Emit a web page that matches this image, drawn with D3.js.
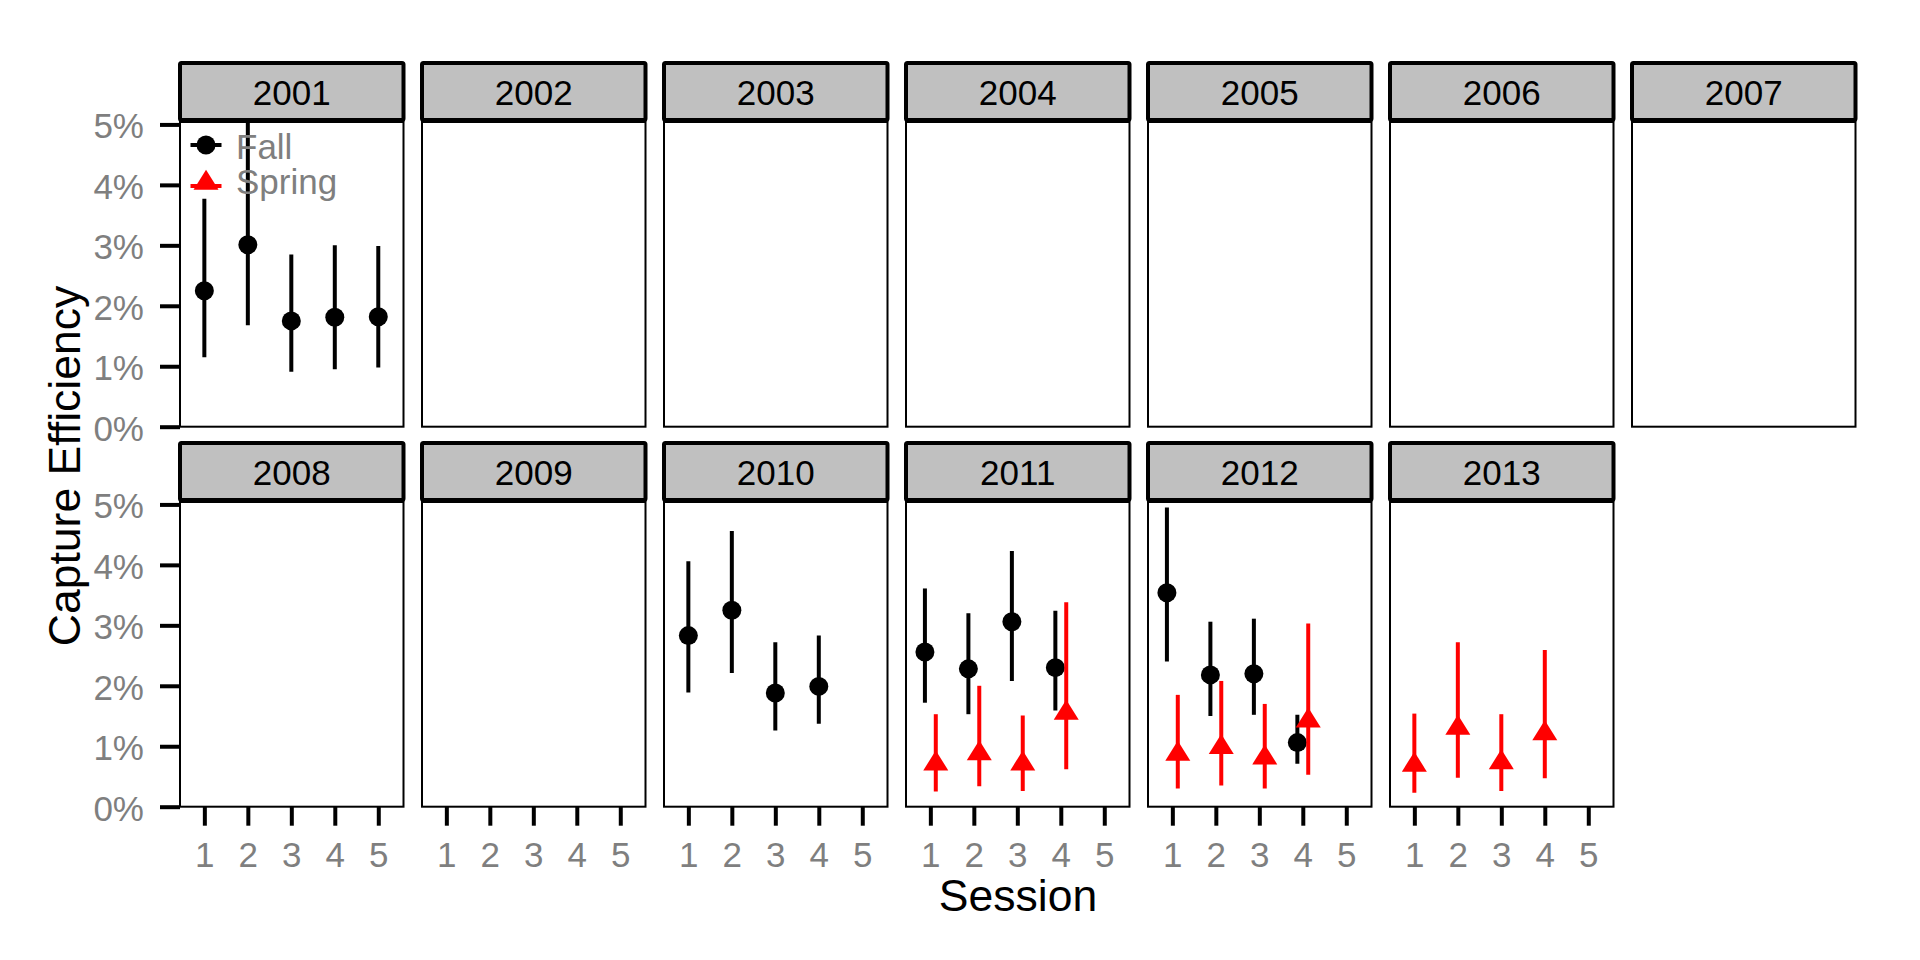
<!DOCTYPE html>
<html>
<head>
<meta charset="utf-8">
<script src="https://cdn.jsdelivr.net/npm/d3@7"></script>
<style>
  html, body { margin: 0; padding: 0; background: #ffffff; }
  svg { display: block; font-family: "Liberation Sans", Arial, Helvetica, sans-serif; }
</style>
</head>
<body>
<svg id="chart" width="1920" height="960"></svg>
<script>
// ---------------- DATA ----------------
const years = ["2001","2002","2003","2004","2005","2006","2007",
               "2008","2009","2010","2011","2012","2013"];
const sessionTicks = [1, 2, 3, 4, 5];
const yTicks = [0, 0.01, 0.02, 0.03, 0.04, 0.05];
const seasons = ["Fall", "Spring"];
const seasonColors = ["#000000", "#ff0000"];

// Fall estimates with confidence limits
const fallYear    = ["2001","2001","2001","2001","2001","2010","2010","2010","2010",
                     "2011","2011","2011","2011","2012","2012","2012","2012"];
const fallSession = [1,2,3,4,5, 1,2,3,4, 1,2,3,4, 1,2,3,4];
const fallEst     = [0.0225,0.0301,0.0175,0.0181,0.0182, 0.0283,0.0325,0.0188,0.0199,
                     0.0256,0.0228,0.0306,0.0230, 0.0354,0.0218,0.0220,0.0106];
const fallLow     = [0.0115,0.0168,0.0091,0.0095,0.0098, 0.0189,0.0221,0.0126,0.0137,
                     0.0172,0.0153,0.0208,0.0159, 0.0240,0.0150,0.0152,0.0071];
const fallHigh    = [0.0377,0.0560,0.0285,0.0300,0.0299, 0.0406,0.0456,0.0272,0.0283,
                     0.0361,0.0320,0.0423,0.0324, 0.0495,0.0306,0.0311,0.0152];

// Spring estimates with confidence limits
const springYear    = ["2011","2011","2011","2011","2012","2012","2012","2012",
                       "2013","2013","2013","2013"];
const springSession = [1,2,3,4, 1,2,3,4, 1,2,3,4];
const springEst     = [0.0071,0.0088,0.0071,0.0155, 0.0087,0.0098,0.0081,0.0142,
                       0.0069,0.0130,0.0073,0.0121];
const springLow     = [0.0025,0.0034,0.0026,0.0062, 0.0030,0.0035,0.0030,0.0053,
                       0.0023,0.0048,0.0026,0.0047];
const springHigh    = [0.0153,0.0200,0.0151,0.0338, 0.0185,0.0208,0.0170,0.0303,
                       0.0154,0.0272,0.0153,0.0259];

// ---------------- LAYOUT ----------------
const svg = d3.select("#chart");
const nCols = 7;
const panelX0 = 180, panelPitch = 242, panelW = 223.5;
const rowTops = [122, 502], panelH = 304.7;
const stripH = 57;
const gray = "#7f7f7f";
const fontTick = 35, fontTitle = 44.5;

const x = d3.scaleLinear().domain([0.44, 5.58]).range([0, panelW]);
const y = d3.scaleLinear().domain([0, 0.0504]).range([panelH, 0]);

// collect records
const records = [];
fallYear.forEach((yr, i) => records.push({year: yr, season: "Fall", session: fallSession[i],
  est: fallEst[i], lo: fallLow[i], hi: fallHigh[i]}));
springYear.forEach((yr, i) => records.push({year: yr, season: "Spring", session: springSession[i],
  est: springEst[i], lo: springLow[i], hi: springHigh[i]}));

const color = d3.scaleOrdinal().domain(seasons).range(seasonColors);

const defs = svg.append("defs");

const triW = 25, triH = 20;
function triPath(cx, cy) {
  return `M${cx},${cy - triH * 2 / 3}L${cx + triW / 2},${cy + triH / 3}L${cx - triW / 2},${cy + triH / 3}Z`;
}

years.forEach((yr, idx) => {
  const col = idx % nCols, row = Math.floor(idx / nCols);
  const px = panelX0 + col * panelPitch, py = rowTops[row];
  const g = svg.append("g").attr("transform", `translate(${px},${py})`);

  defs.append("clipPath").attr("id", "clip" + yr)
    .append("rect").attr("x", 0).attr("y", 0).attr("width", panelW).attr("height", panelH);

  // panel background/border
  g.append("rect").attr("x", 0).attr("y", 0).attr("width", panelW).attr("height", panelH)
    .attr("fill", "#ffffff").attr("stroke", "#000").attr("stroke-width", 2);

  // data
  const recs = records.filter(r => r.year === yr);
  const both = new Set(recs.map(r => r.season)).size > 1;
  const dodge = s => both ? (s === "Fall" ? -0.125 : 0.125) : 0;
  const dg = g.append("g").attr("clip-path", `url(#clip${yr})`);
  recs.forEach(r => {
    const cx = x(r.session + dodge(r.season));
    dg.append("line").attr("x1", cx).attr("x2", cx).attr("y1", y(r.lo)).attr("y2", y(r.hi))
      .attr("stroke", color(r.season)).attr("stroke-width", 4);
    if (r.season === "Fall") {
      dg.append("circle").attr("cx", cx).attr("cy", y(r.est)).attr("r", 9.5).attr("fill", color(r.season));
    } else {
      dg.append("path").attr("d", triPath(cx, y(r.est))).attr("fill", color(r.season));
    }
  });

  // strip
  g.append("rect").attr("x", 0).attr("y", -stripH - 2).attr("width", panelW).attr("height", stripH)
    .attr("fill", "#c0c0c0").attr("stroke", "#000").attr("stroke-width", 4)
    .attr("rx", 1.5).attr("stroke-linejoin", "round");
  g.append("text").attr("x", panelW / 2).attr("y", -17).attr("text-anchor", "middle")
    .attr("font-size", fontTick).attr("fill", "#000").text(yr);

  // y axis on first column
  if (col === 0) {
    const ya = d3.axisLeft(y).tickValues(yTicks).tickSize(20).tickPadding(16)
      .tickFormat(d => Math.round(d * 100) + "%");
    const ag = g.append("g").call(ya);
    ag.select(".domain").remove();
    ag.selectAll(".tick line").attr("stroke", "#000").attr("stroke-width", 4);
    ag.selectAll(".tick text").attr("fill", gray).attr("font-size", fontTick)
      .attr("font-family", "Liberation Sans, Arial, sans-serif").attr("dy", "0.38em");
  }
  // x axis on bottom row
  if (row === 1) {
    const xa = d3.axisBottom(x).tickValues(sessionTicks).tickSize(19).tickPadding(16)
      .tickFormat(d3.format("d"));
    const ag = g.append("g").attr("transform", `translate(0,${panelH})`).call(xa);
    ag.select(".domain").remove();
    ag.selectAll(".tick line").attr("stroke", "#000").attr("stroke-width", 4);
    ag.selectAll(".tick text").attr("fill", gray).attr("font-size", fontTick)
      .attr("font-family", "Liberation Sans, Arial, sans-serif").attr("dy", "0.71em");
  }

  // legend inside the first panel
  if (idx === 0) {
    const lg = g.append("g");
    const kx = 26;
    // Fall
    lg.append("line").attr("x1", kx - 15.5).attr("x2", kx + 15.5).attr("y1", 23).attr("y2", 23)
      .attr("stroke", seasonColors[0]).attr("stroke-width", 4);
    lg.append("circle").attr("cx", kx).attr("cy", 23).attr("r", 9.5).attr("fill", seasonColors[0]);
    lg.append("text").attr("x", 56).attr("y", 37).attr("font-size", fontTick).attr("fill", gray).text(seasons[0]);
    // Spring
    lg.append("line").attr("x1", kx - 15.5).attr("x2", kx + 15.5).attr("y1", 64).attr("y2", 64)
      .attr("stroke", seasonColors[1]).attr("stroke-width", 4);
    lg.append("path").attr("d", triPath(kx, 61)).attr("fill", seasonColors[1]);
    lg.append("text").attr("x", 56).attr("y", 72).attr("font-size", fontTick).attr("fill", gray).text(seasons[1]);
  }
});

// axis titles
svg.append("text").attr("x", 1018).attr("y", 911).attr("text-anchor", "middle")
  .attr("font-size", fontTitle).attr("fill", "#000").text("Session");
svg.append("text").attr("transform", "translate(80,466) rotate(-90)").attr("text-anchor", "middle")
  .attr("font-size", fontTitle).attr("fill", "#000").text("Capture Efficiency");
</script>
</body>
</html>
